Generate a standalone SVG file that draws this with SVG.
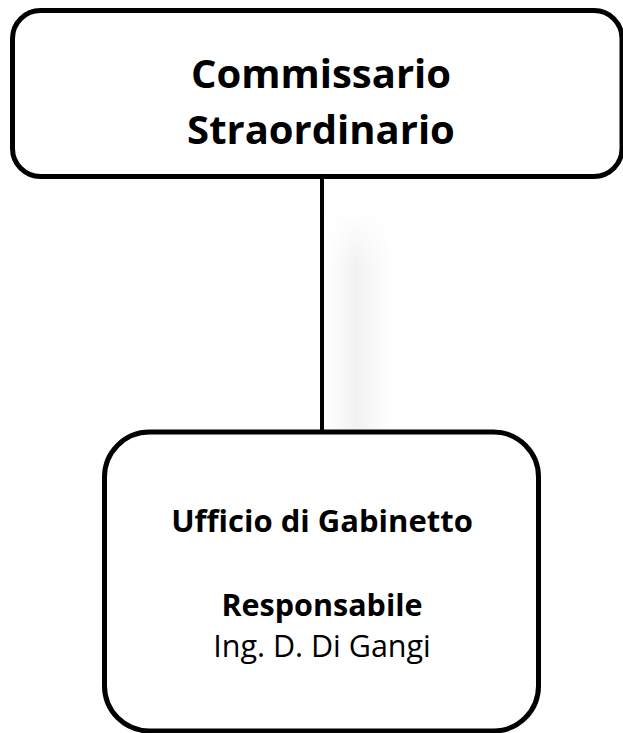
<svg xmlns="http://www.w3.org/2000/svg" width="623" height="733" viewBox="0 0 623 733">
  <defs>
    <style>
      .box { fill: #ffffff; stroke: #000000; stroke-width: 5; }
      .link { stroke: #000000; stroke-width: 4; fill: none; }
      .title { font-family: "Open Sans", "Liberation Sans", sans-serif; font-weight: bold; fill: #000000; text-anchor: middle; }
      .plain { font-family: "Open Sans", "Liberation Sans", sans-serif; fill: #000000; text-anchor: middle; }
    </style>
    <linearGradient id="shadeH" x1="0" y1="0" x2="1" y2="0">
      <stop offset="0" stop-color="#f2f2f2" stop-opacity="0"/>
      <stop offset="0.45" stop-color="#f2f2f2" stop-opacity="1"/>
      <stop offset="1" stop-color="#f2f2f2" stop-opacity="0"/>
    </linearGradient>
    <linearGradient id="shadeV" x1="0" y1="0" x2="0" y2="1">
      <stop offset="0" stop-color="#ffffff" stop-opacity="0"/>
      <stop offset="0.25" stop-color="#ffffff" stop-opacity="1"/>
      <stop offset="1" stop-color="#ffffff" stop-opacity="1"/>
    </linearGradient>
    <mask id="fadeTop">
      <rect x="320" y="210" width="80" height="225" fill="url(#shadeV)"/>
    </mask>
  </defs>

  <rect x="325" y="210" width="68" height="225" fill="url(#shadeH)" mask="url(#fadeTop)"/>

  <g id="connectors">
    <line class="link" x1="322" y1="176" x2="322" y2="433"/>
  </g>

  <g id="node-commissario">
    <rect class="box" x="12.5" y="10.5" width="609.5" height="166" rx="28" ry="28"/>
    <text class="title" x="321" y="88" font-size="40">Commissario</text>
    <text class="title" x="321" y="144" font-size="40">Straordinario</text>
  </g>

  <g id="node-gabinetto">
    <rect class="box" x="104.5" y="432" width="434" height="299" rx="45" ry="45"/>
    <text class="title" x="322" y="532" font-size="31">Ufficio di Gabinetto</text>
    <text class="title" x="322" y="616" font-size="30.5">Responsabile</text>
    <text class="plain" x="322" y="657" font-size="30.5">Ing. D. Di Gangi</text>
  </g>
</svg>
